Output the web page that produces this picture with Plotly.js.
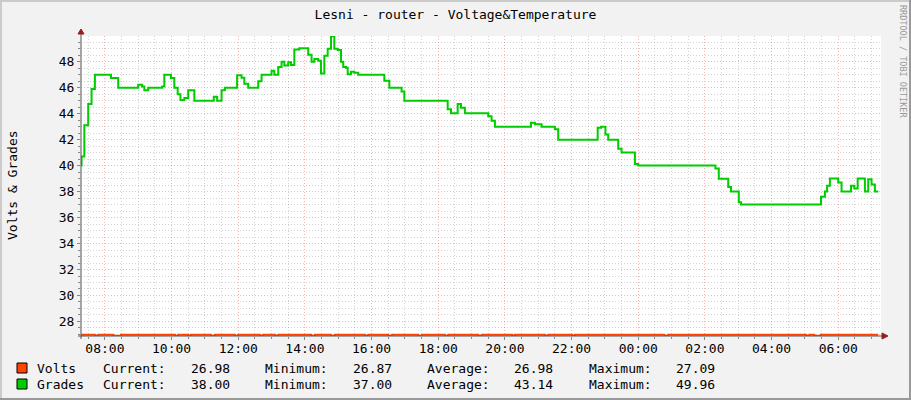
<!DOCTYPE html>
<html>
<head>
<meta charset="utf-8">
<script src="https://cdn.plot.ly/plotly-3.0.1.min.js"></script>
<style>
  html, body { margin: 0; padding: 0; background: #f2f2f2; }
  #chart { width: 911px; height: 400px; }
</style>
</head>
<body>
<div id="chart"></div>
<script>
// values, 24h window
const gradeTimes = [
  '2024-01-01 07:17', '2024-01-01 07:18', '2024-01-01 07:23', '2024-01-01 07:30', '2024-01-01 07:36',
  '2024-01-01 07:42', '2024-01-01 08:11', '2024-01-01 08:24', '2024-01-01 09:00', '2024-01-01 09:07',
  '2024-01-01 09:11', '2024-01-01 09:18', '2024-01-01 09:43', '2024-01-01 09:47', '2024-01-01 09:59',
  '2024-01-01 10:05', '2024-01-01 10:11', '2024-01-01 10:16', '2024-01-01 10:23', '2024-01-01 10:30',
  '2024-01-01 10:41', '2024-01-01 11:16', '2024-01-01 11:22', '2024-01-01 11:30', '2024-01-01 11:36',
  '2024-01-01 11:58', '2024-01-01 12:06', '2024-01-01 12:11', '2024-01-01 12:18', '2024-01-01 12:36',
  '2024-01-01 12:42', '2024-01-01 13:00', '2024-01-01 13:05', '2024-01-01 13:12', '2024-01-01 13:18',
  '2024-01-01 13:23', '2024-01-01 13:30', '2024-01-01 13:35', '2024-01-01 13:41', '2024-01-01 13:50',
  '2024-01-01 14:06', '2024-01-01 14:12', '2024-01-01 14:17', '2024-01-01 14:24', '2024-01-01 14:29',
  '2024-01-01 14:35', '2024-01-01 14:41', '2024-01-01 14:47', '2024-01-01 14:53', '2024-01-01 14:59',
  '2024-01-01 15:05', '2024-01-01 15:09', '2024-01-01 15:14', '2024-01-01 15:17', '2024-01-01 15:23',
  '2024-01-01 15:29', '2024-01-01 15:36', '2024-01-01 16:23', '2024-01-01 16:32', '2024-01-01 16:54',
  '2024-01-01 16:59', '2024-01-01 18:17', '2024-01-01 18:23', '2024-01-01 18:35', '2024-01-01 18:41',
  '2024-01-01 18:48', '2024-01-01 19:30', '2024-01-01 19:36', '2024-01-01 19:42', '2024-01-01 20:47',
  '2024-01-01 20:54', '2024-01-01 21:06', '2024-01-01 21:30', '2024-01-01 21:36', '2024-01-01 22:47',
  '2024-01-01 22:53', '2024-01-01 23:01', '2024-01-01 23:06', '2024-01-01 23:24', '2024-01-01 23:30',
  '2024-01-01 23:54', '2024-01-02 00:00', '2024-01-02 02:19', '2024-01-02 02:25', '2024-01-02 02:42',
  '2024-01-02 02:47', '2024-01-02 03:01', '2024-01-02 03:05', '2024-01-02 05:29', '2024-01-02 05:36',
  '2024-01-02 05:40', '2024-01-02 05:45', '2024-01-02 06:00', '2024-01-02 06:06', '2024-01-02 06:23',
  '2024-01-02 06:29', '2024-01-02 06:35', '2024-01-02 06:48', '2024-01-02 06:54', '2024-01-02 07:00',
  '2024-01-02 07:06', '2024-01-02 07:12',
];
const gradeValues = [
  40.0, 40.7, 43.1, 44.75, 45.9,
  47.0, 46.75, 46.0, 46.23, 46.1,
  45.8, 46.0, 46.1, 47.0, 46.75,
  46.0, 45.5, 45.05, 45.2, 45.8,
  45.0, 45.3, 45.0, 45.8, 46.0,
  46.95, 46.77, 46.3, 46.0, 46.5,
  47.0, 47.3, 47.0, 47.6, 48.0,
  47.7, 47.95, 47.75, 48.95, 49.03,
  48.54, 48.0, 48.2, 48.07, 47.1,
  48.45, 49.0, 49.96, 49.0, 48.9,
  48.0, 47.6, 47.54, 47.03, 47.23,
  47.15, 47.0, 46.54, 46.0, 45.7,
  45.0, 44.34, 44.03, 44.75, 44.46,
  44.03, 43.8, 43.46, 43.0, 43.3,
  43.18, 43.0, 42.8, 42.0, 42.92,
  43.0, 42.4, 42.0, 41.3, 41.0,
  40.13, 40.0, 39.77, 38.98, 38.36,
  38.0, 37.18, 37.0, 37.6, 38.0,
  38.44, 39.0, 38.7, 38.0, 38.44,
  38.23, 39.0, 38.0, 38.95, 38.54,
  38.0, 38.0,
];

const voltTimes = [
  '2024-01-01 07:17', '2024-01-01 07:42', '2024-01-01 07:48', '2024-01-01 08:15', '2024-01-01 08:29',
  '2024-01-01 10:06', '2024-01-01 10:12', '2024-01-01 10:30', '2024-01-01 10:35', '2024-01-01 11:11',
  '2024-01-01 11:18', '2024-01-01 11:54', '2024-01-01 12:00', '2024-01-01 12:39', '2024-01-01 12:45',
  '2024-01-01 13:06', '2024-01-01 13:12', '2024-01-01 14:11', '2024-01-01 14:18', '2024-01-01 14:47',
  '2024-01-01 14:54', '2024-01-01 15:48', '2024-01-01 15:54', '2024-01-01 16:30', '2024-01-01 16:37',
  '2024-01-01 17:24', '2024-01-01 17:31', '2024-01-01 18:12', '2024-01-01 18:18', '2024-01-01 19:12',
  '2024-01-01 19:19', '2024-01-01 20:13', '2024-01-01 20:18', '2024-01-01 21:12', '2024-01-01 21:18',
  '2024-01-01 22:01', '2024-01-01 22:06', '2024-01-02 00:47', '2024-01-02 00:54', '2024-01-02 05:02',
  '2024-01-02 05:08', '2024-01-02 05:17', '2024-01-02 05:29', '2024-01-02 07:12',
];
const voltValues = [
  26.98, 26.9, 26.98, 26.9, 26.98,
  26.9, 26.98, 26.9, 26.98, 26.9,
  26.98, 26.9, 26.98, 26.9, 26.98,
  26.9, 26.98, 26.9, 26.98, 26.9,
  26.98, 26.9, 26.98, 26.9, 26.98,
  26.9, 26.98, 26.9, 26.98, 26.9,
  26.98, 26.9, 26.98, 26.9, 26.98,
  26.9, 26.98, 26.9, 26.98, 26.9,
  26.98, 26.9, 26.98, 26.98,
];

const seriesNames = ['Volts', 'Grades'];
const seriesColors = ['#ff4400', '#00cc00'];
const statLabels = ['Current:', 'Minimum:', 'Average:', 'Maximum:'];
const statValues = [
  ['26.98', '26.87', '26.98', '27.09'],
  ['38.00', '37.00', '43.14', '49.96'],
];

const chartTitle = 'Lesni - router - Voltage&Temperature';
const yTitle = 'Volts & Grades';
const watermark = 'RRDTOOL / TOBI OETIKER';

const FONT = '"DejaVu Sans Mono", monospace';

// plot area in page pixels (rrdtool canvas)
const X0 = 81, Y0 = 36, W = 800, H = 300;
const px = x => (x - X0) / W;
const py = y => (Y0 + H - y) / H;

function legendItems() {
  const shapes = [];
  const annotations = [];
  const rowY = [368, 384];
  const labelX = [101, 263, 425, 587];
  const valueX = [189, 351, 512, 674];

  seriesNames.forEach((name, i) => {
    const y = rowY[i];
    shapes.push({
      type: 'rect', xref: 'paper', yref: 'paper',
      x0: px(17), x1: px(27), y0: py(y - 5), y1: py(y + 5),
      fillcolor: seriesColors[i], line: {color: '#000', width: 1},
    });
    const txt = (text, x) => annotations.push({
      text, xref: 'paper', yref: 'paper', x: px(x), y: py(y),
      xanchor: 'left', yanchor: 'middle', showarrow: false,
      font: {family: FONT, size: 13, color: '#000'},
    });
    txt(name, 35);
    statLabels.forEach((label, j) => {
      txt(label, labelX[j]);
      txt(statValues[i][j], valueX[j]);
    });
  });

  return {shapes, annotations};
}

function frame() {
  // 3d-ish border like rrdtool: light top/left, dark bottom/right
  const r = (x0, x1, y0, y1, c) => ({
    type: 'rect', xref: 'paper', yref: 'paper', layer: 'above',
    x0: px(x0), x1: px(x1), y0: py(y0), y1: py(y1),
    fillcolor: c, line: {width: 0},
  });
  return [
    r(0, 911, 0, 2, '#cbcbcb'),
    r(0, 2, 0, 400, '#cbcbcb'),
    r(909, 911, 0, 400, '#999999'),
    r(0, 911, 398, 400, '#999999'),
  ];
}

function axesArrows() {
  const line = (x0, y0, x1, y1) => ({
    type: 'line', xref: 'paper', yref: 'paper',
    x0: px(x0), y0: py(y0), x1: px(x1), y1: py(y1),
    line: {color: '#555', width: 1},
  });
  const tri = pts => ({
    type: 'path', xref: 'paper', yref: 'paper',
    path: 'M ' + pts.map(([x, y]) => `${px(x)},${py(y)}`).join(' L ') + ' Z',
    fillcolor: '#9b1b1b', line: {color: '#9b1b1b', width: 1},
  });
  return [
    line(81, 339, 81, 33),
    line(78, 336, 883, 336),
    tri([[78, 34], [84, 34], [81, 29]]),
    tri([[882, 333], [882, 339], [888, 336]]),
  ];
}

const legend = legendItems();

const data = [{
  type: 'scatter', mode: 'lines',
  x: voltTimes, y: voltValues, name: seriesNames[0],
  line: {color: seriesColors[0], width: 2, shape: 'hv'},
}, {
  type: 'scatter', mode: 'lines',
  x: gradeTimes, y: gradeValues, name: seriesNames[1],
  line: {color: seriesColors[1], width: 2, shape: 'hv'},
}];

const majorGrid = 'rgba(255,0,0,0.3)';
const minorGrid = 'rgba(128,128,128,0.35)';

const layout = {
  width: 911,
  height: 400,
  margin: {l: X0, r: 911 - X0 - W, t: Y0, b: 400 - Y0 - H},
  paper_bgcolor: '#f2f2f2',
  plot_bgcolor: '#ffffff',
  showlegend: false,
  title: {
    text: chartTitle,
    x: 0.5, xref: 'container', y: 1 - 14 / 400, yanchor: 'middle',
    font: {family: FONT, size: 13, color: '#000'},
  },
  xaxis: {
    type: 'date',
    range: ['2024-01-01 07:17', '2024-01-02 07:17'],
    tick0: '2024-01-01 08:00',
    dtick: 2 * 3600 * 1000,
    tickformat: '%H:%M',
    tickfont: {family: FONT, size: 13, color: '#000'},
    ticks: 'outside', ticklen: 3, tickcolor: '#888',
    ticklabelstandoff: -3,
    showgrid: true, gridcolor: majorGrid, griddash: '1px,2px', gridwidth: 1,
    minor: {
      dtick: 30 * 60 * 1000, showgrid: true,
      gridcolor: minorGrid, griddash: '1px,2px', gridwidth: 1,
      ticks: 'outside', ticklen: 2, tickcolor: '#888',
    },
    zeroline: false, showline: false, fixedrange: true,
  },
  yaxis: {
    range: [26.88, 49.98],
    tick0: 0, dtick: 2,
    tickfont: {family: FONT, size: 13, color: '#000'},
    ticks: 'outside', ticklen: 3, tickcolor: '#888',
    showgrid: true, gridcolor: majorGrid, griddash: '1px,2px', gridwidth: 1,
    minor: {
      dtick: 0.5, showgrid: true,
      gridcolor: minorGrid, griddash: '1px,2px', gridwidth: 1,
      ticks: 'outside', ticklen: 2, tickcolor: '#888',
    },
    zeroline: false, showline: false, fixedrange: true,
  },
  shapes: [...axesArrows(), ...legend.shapes, ...frame()],
  annotations: [
    ...legend.annotations,
    {
      text: yTitle, xref: 'paper', yref: 'paper',
      x: px(12), y: py(185), textangle: -90,
      xanchor: 'center', yanchor: 'middle', showarrow: false,
      font: {family: FONT, size: 13, color: '#000'},
    },
    {
      text: watermark, xref: 'paper', yref: 'paper',
      x: px(903), y: py(61), textangle: 90,
      xanchor: 'center', yanchor: 'middle', showarrow: false,
      font: {family: FONT, size: 8.5, color: '#999'},
    },
  ],
};

Plotly.newPlot('chart', data, layout, {staticPlot: true, displayModeBar: false});
</script>
</body>
</html>
